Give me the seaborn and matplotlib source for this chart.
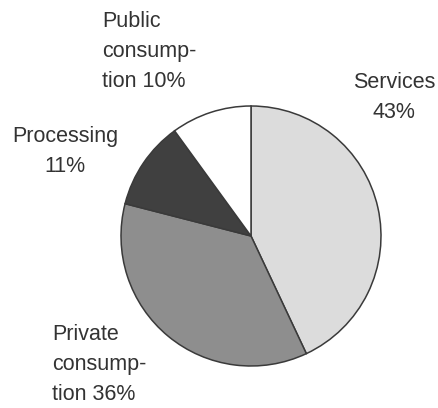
import matplotlib
matplotlib.use("Agg")
import matplotlib.pyplot as plt
import seaborn as sns

categories = ["Services", "Private consumption", "Processing", "Public consumption"]
shares = [43, 36, 11, 10]
label_texts = ["Services\n43%", "Private\nconsump-\ntion 36%", "Processing\n11%", "Public\nconsump-\ntion 10%"]
colors = ["#dcdcdc", "#8e8e8e", "#404040", "#ffffff"]

sns.set_theme(style="white")
plt.rcParams['font.family'] = ['Liberation Sans', 'DejaVu Sans']

W, H = 438, 408
fig = plt.figure(figsize=(W / 100, H / 100), dpi=100)
ax = fig.add_axes([0, 0, 1, 1])

cx, cy, r = 251, 236, 130
ax.pie(shares, colors=colors, startangle=90, counterclock=False,
       center=(cx, H - cy), radius=r, frame=True,
       wedgeprops=dict(edgecolor="#3a3a3a", linewidth=1.1))
ax.set_xlim(0, W)
ax.set_ylim(0, H)
ax.set_aspect("equal")
ax.axis("off")

# label positions (x, y-from-top, alignment)
label_pos = [(394, 72, "center"), (52, 324, "left"), (65, 126, "center"), (102, 11, "left")]
for txt, (x, y, ha) in zip(label_texts, label_pos):
    ax.text(x, H - y, txt, ha=ha, va="top", fontsize=15.5, color="#333333",
            linespacing=1.55, multialignment=ha)

fig.savefig("out.png", dpi=100, facecolor="white")
